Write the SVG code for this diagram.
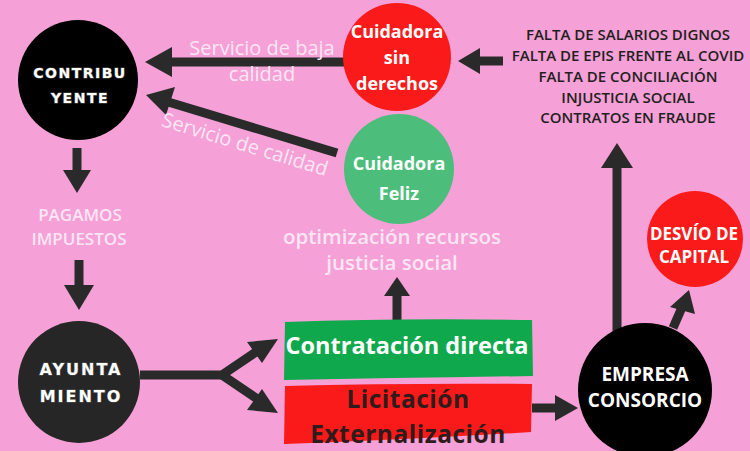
<svg xmlns="http://www.w3.org/2000/svg" width="750" height="451" viewBox="0 0 750 451">
<style>
.arrow{stroke:#2a2a2a;stroke-width:9;fill:none}
.head{fill:#2a2a2a}
.blk{font-family:"DejaVu Sans",sans-serif;font-weight:700;fill:#fff;text-anchor:middle;stroke:#555;stroke-width:1.2;paint-order:stroke}
.wb{font-family:"Open Sans",sans-serif;font-weight:700;fill:#fff;text-anchor:middle}
.lbl{font-family:"Open Sans",sans-serif;fill:#fde6f4;text-anchor:middle}
.list{font-family:"Open Sans",sans-serif;font-weight:600;fill:#231f20;text-anchor:middle;font-size:15px}
</style>
<rect width="750" height="451" fill="#f5a0d6"/>
<g id="connectors">
<line class="arrow" x1="347" y1="62" x2="165" y2="62"/>
<polygon class="head" points="145,62 172,47 172,77"/>
<line class="arrow" x1="337" y1="153" x2="165" y2="101"/>
<polygon class="head" points="146,95 175,87 166,115"/>
<line class="arrow" x1="503" y1="61" x2="475" y2="61"/>
<polygon class="head" points="458,61 480,48 480,74"/>
<line class="arrow" x1="77" y1="148" x2="77" y2="175"/>
<polygon class="head" points="63,170 91,170 77,193"/>
<line class="arrow" x1="79" y1="260" x2="79" y2="290"/>
<polygon class="head" points="64,285 94,285 79,310"/>
<polyline class="arrow" points="140,375 222,375 262,348"/>
<polyline class="arrow" points="222,375 262,402"/>
<polygon class="head" points="278,339 247,342 262,363"/>
<polygon class="head" points="278,413 262,389 247,410"/>
<line class="arrow" x1="397" y1="320" x2="397" y2="292"/>
<polygon class="head" points="397,277 384,296 410,296"/>
<line class="arrow" x1="532" y1="408" x2="560" y2="408"/>
<polygon class="head" points="578,408 555,395 555,421"/>
<line class="arrow" x1="617" y1="332" x2="617" y2="162"/>
<polygon class="head" points="617,143 601,168 633,168"/>
<line class="arrow" x1="673" y1="328" x2="683" y2="305"/>
<polygon class="head" points="689,290 670,307 695,314"/>
</g>
<g id="contribuyente">
<circle cx="78" cy="80" r="60" fill="#000"/>
<text class="blk" x="80" y="78" font-size="14" letter-spacing="1.5">CONTRIBU</text>
<text class="blk" x="80" y="103" font-size="14" letter-spacing="1.5">YENTE</text>
</g>
<g id="cuidadora-sin-derechos">
<circle cx="397" cy="57" r="54" fill="#fb1a1a"/>
<text class="wb" x="397" y="38" font-size="18">Cuidadora</text>
<text class="wb" x="397" y="64" font-size="18">sin</text>
<text class="wb" x="397" y="90" font-size="18">derechos</text>
</g>
<g id="cuidadora-feliz">
<circle cx="399" cy="169" r="55" fill="#4dbd7c"/>
<text class="wb" x="399" y="170" font-size="18">Cuidadora</text>
<text class="wb" x="399" y="200" font-size="18">Feliz</text>
</g>
<g id="label-baja">
<text class="lbl" x="262" y="55" font-size="20">Servicio de baja</text>
<text class="lbl" x="262" y="81" font-size="20">calidad</text>
</g>
<g id="label-calidad">
<text class="lbl" x="243" y="151" font-size="20" transform="rotate(17 243 151)">Servicio de calidad</text>
</g>
<g id="problemas">
<text class="list" x="628" y="40">FALTA DE SALARIOS DIGNOS</text>
<text class="list" x="628" y="61">FALTA DE EPIS FRENTE AL COVID</text>
<text class="list" x="628" y="82">FALTA DE CONCILIACIÓN</text>
<text class="list" x="628" y="103">INJUSTICIA SOCIAL</text>
<text class="list" x="628" y="123">CONTRATOS EN FRAUDE</text>
</g>
<g id="pagamos">
<text class="lbl" x="80" y="221" font-size="17" font-weight="600">PAGAMOS</text>
<text class="lbl" x="79" y="245" font-size="17" font-weight="600">IMPUESTOS</text>
</g>
<g id="optimizacion">
<text class="lbl" x="392" y="244" font-size="20.5" font-weight="600">optimización recursos</text>
<text class="lbl" x="392" y="270" font-size="20.5" font-weight="600">justicia social</text>
</g>
<g id="ayuntamiento">
<circle cx="79" cy="382" r="61" fill="#262626"/>
<text class="blk" x="81" y="375" font-size="16" letter-spacing="2">AYUNTA</text>
<text class="blk" x="81" y="402" font-size="16" letter-spacing="2">MIENTO</text>
</g>
<g id="contratacion-directa">
<path d="M285,322 Q400,318 532,320 L533,376 Q400,378 284,380 Z" fill="#10a84c"/>
<text class="wb" x="407" y="354" font-size="23.5">Contratación directa</text>
</g>
<g id="licitacion">
<path d="M285,386 Q400,383 532,384 L531,432 Q400,440 284,444 Z" fill="#fb1a1a"/>
<text class="wb" x="408" y="408" font-size="24.5" letter-spacing="0.5" style="fill:#2e1c1c">Licitación</text>
<text class="wb" x="408" y="443" font-size="24.5" letter-spacing="0.5" style="fill:#2e1c1c">Externalización</text>
</g>
<g id="empresa">
<circle cx="645" cy="390" r="67" fill="#000"/>
<text class="wb" x="645" y="381" font-size="19">EMPRESA</text>
<text class="wb" x="645" y="407" font-size="19">CONSORCIO</text>
</g>
<g id="desvio">
<circle cx="695" cy="239" r="48" fill="#fb1a1a"/>
<text class="wb" x="694" y="240" font-size="17">DESVÍO DE</text>
<text class="wb" x="694" y="263" font-size="17">CAPITAL</text>
</g>
</svg>
